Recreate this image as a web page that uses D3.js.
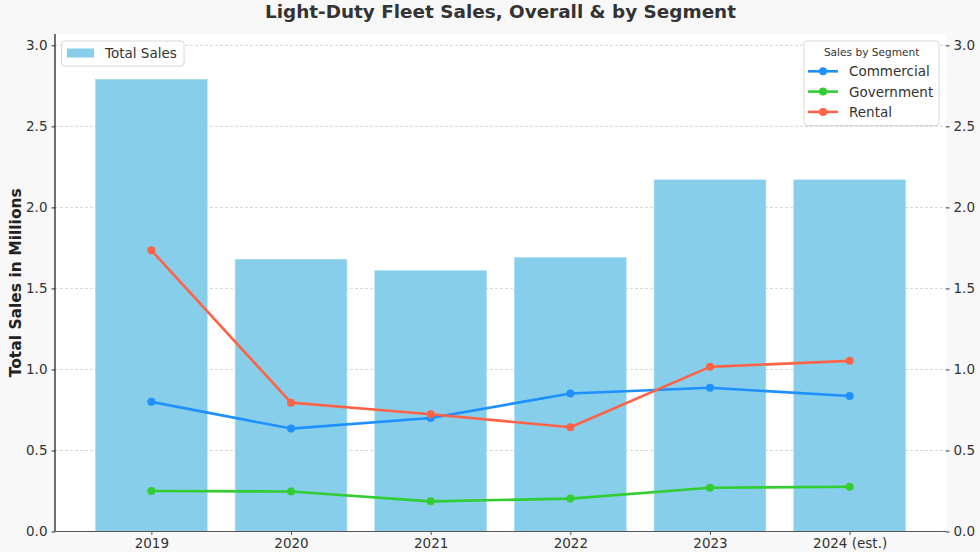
<!DOCTYPE html>
<html>
<head>
<meta charset="utf-8">
<script src="https://cdn.jsdelivr.net/npm/d3@7"></script>
<style>
  html, body { margin: 0; padding: 0; background: #f8f8f8; }
  svg { display: block; font-family: "DejaVu Sans", sans-serif; }
</style>
</head>
<body>
<svg id="chart" width="980" height="552"></svg>
<script>
const categories = ["2019", "2020", "2021", "2022", "2023", "2024 (est.)"];
const totalSales = [2.79, 1.68, 1.61, 1.69, 2.17, 2.17];
const commercial = [0.80, 0.635, 0.70, 0.852, 0.887, 0.836];
const government = [0.25, 0.247, 0.186, 0.203, 0.27, 0.276];
const rental = [1.735, 0.795, 0.724, 0.643, 1.016, 1.053];
const yTicks = [0, 0.5, 1.0, 1.5, 2.0, 2.5, 3.0];
const seriesNames = ["Commercial", "Government", "Rental"];
const seriesColors = ["#1E90FF", "#32CD32", "#FF6347"];
const seriesData = [commercial, government, rental];

const svg = d3.select("#chart");
const pL = 55, pR = 946, pT = 34, pB = 531.5;

const x = d3.scaleLinear().domain([-0.69, categories.length - 1 + 0.69]).range([pL, pR]);
const y = d3.scaleLinear().domain([0, 3.07]).range([pB, pT]);
const barW = x(0.8) - x(0);

// plot background
svg.append("rect").attr("x", pL).attr("y", pT).attr("width", pR - pL).attr("height", pB - pT).attr("fill", "#ffffff");

// grid
svg.append("g").selectAll("line").data(yTicks).join("line")
  .attr("x1", pL).attr("x2", pR)
  .attr("y1", d => y(d)).attr("y2", d => y(d))
  .attr("stroke", "#cccccc").attr("stroke-width", 0.8).attr("stroke-dasharray", "3,2");

// bars
svg.append("g").selectAll("rect").data(totalSales).join("rect")
  .attr("x", (d, i) => x(i) - barW / 2)
  .attr("width", barW)
  .attr("y", d => y(d))
  .attr("height", d => y(0) - y(d))
  .attr("fill", "#87CEEB")
  .attr("stroke", "#a6dcf0").attr("stroke-width", 0.6);

// lines
const line = d3.line().x((d, i) => x(i)).y(d => y(d));
seriesData.forEach((vals, k) => {
  svg.append("path").datum(vals).attr("d", line)
    .attr("fill", "none").attr("stroke", seriesColors[k]).attr("stroke-width", 2.6)
    .attr("stroke-linejoin", "round");
  svg.append("g").selectAll("circle").data(vals).join("circle")
    .attr("cx", (d, i) => x(i)).attr("cy", d => y(d)).attr("r", 4)
    .attr("fill", seriesColors[k]);
});

// left axis
const leftAxis = svg.append("g").attr("transform", `translate(${pL},0)`)
  .call(d3.axisLeft(y).tickValues(yTicks).tickFormat(d3.format(".1f")).tickSize(3.5).tickPadding(4));
leftAxis.select(".domain").remove();
leftAxis.selectAll("text").attr("font-size", 13.5).attr("fill", "#333").attr("font-family", "DejaVu Sans");
leftAxis.selectAll("line").attr("stroke", "#333");
svg.append("line").attr("x1", pL).attr("x2", pL).attr("y1", pT).attr("y2", pB).attr("stroke", "#111").attr("stroke-width", 1.2);

// right axis
const rightAxis = svg.append("g").attr("transform", `translate(${pR},0)`)
  .call(d3.axisRight(y).tickValues(yTicks).tickFormat(d3.format(".1f")).tickSize(3.5).tickPadding(4));
rightAxis.select(".domain").remove();
rightAxis.selectAll("text").attr("font-size", 13.5).attr("fill", "#333").attr("font-family", "DejaVu Sans");
rightAxis.selectAll("line").attr("stroke", "#333");

// bottom axis
const bottomAxis = svg.append("g").attr("transform", `translate(0,${pB})`)
  .call(d3.axisBottom(x).tickValues(d3.range(categories.length)).tickFormat(i => categories[i]).tickSize(3.5).tickPadding(3));
bottomAxis.select(".domain").remove();
bottomAxis.selectAll("text").attr("font-size", 13.5).attr("fill", "#333").attr("font-family", "DejaVu Sans");
bottomAxis.selectAll("line").attr("stroke", "#555");
svg.append("line").attr("x1", pL).attr("x2", pR).attr("y1", pB).attr("y2", pB).attr("stroke", "#555").attr("stroke-width", 1.2);

// title
svg.append("text").attr("x", (pL + pR) / 2).attr("y", 17.5).attr("text-anchor", "middle")
  .attr("font-size", 18.4).attr("font-weight", "bold").attr("fill", "#333")
  .text("Light-Duty Fleet Sales, Overall & by Segment");

// y label
svg.append("text").attr("transform", `translate(21,${(pT + pB) / 2}) rotate(-90)`)
  .attr("text-anchor", "middle").attr("font-size", 15.5).attr("font-weight", "bold").attr("fill", "#222")
  .text("Total Sales in Millions");

// legend 1
const l1 = svg.append("g");
l1.append("rect").attr("x", 61.5).attr("y", 41).attr("width", 122.5).attr("height", 25).attr("rx", 3)
  .attr("fill", "#fff").attr("fill-opacity", 0.85).attr("stroke", "#d8d8d8");
l1.append("rect").attr("x", 67).attr("y", 48.5).attr("width", 27).attr("height", 9).attr("fill", "#87CEEB");
l1.append("text").attr("x", 105).attr("y", 58).attr("font-size", 13.5).attr("fill", "#333").text("Total Sales");

// legend 2
const l2 = svg.append("g");
l2.append("rect").attr("x", 804).attr("y", 41).attr("width", 135).attr("height", 84.5).attr("rx", 3)
  .attr("fill", "#fff").attr("fill-opacity", 0.85).attr("stroke", "#d8d8d8");
l2.append("text").attr("x", 871.7).attr("y", 55.5).attr("text-anchor", "middle").attr("font-size", 10.6).attr("fill", "#333").text("Sales by Segment");
seriesNames.forEach((name, k) => {
  const yy = 71.3 + k * 20.3;
  l2.append("line").attr("x1", 808).attr("x2", 838).attr("y1", yy).attr("y2", yy)
    .attr("stroke", seriesColors[k]).attr("stroke-width", 2.6);
  l2.append("circle").attr("cx", 823).attr("cy", yy).attr("r", 4).attr("fill", seriesColors[k]);
  l2.append("text").attr("x", 849).attr("y", yy + 5).attr("font-size", 13.5).attr("fill", "#333").text(name);
});
</script>
</body>
</html>
